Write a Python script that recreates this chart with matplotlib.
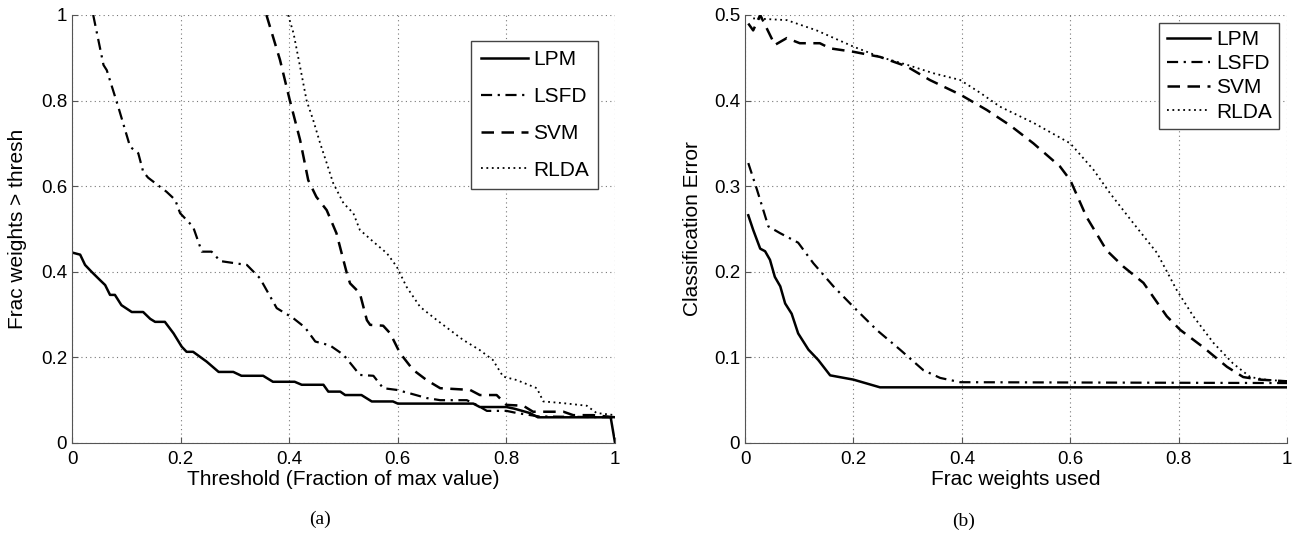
import matplotlib.pyplot as plt

plt.rcParams["font.family"] = ["Liberation Sans", "DejaVu Sans"]

# (a) fraction of weights above threshold
lpm_a_x = [0, 0.015, 0.024, 0.036, 0.052, 0.061, 0.07, 0.079, 0.091, 0.11, 0.131, 0.144, 0.153, 0.171,
           0.187, 0.202, 0.211, 0.223, 0.248, 0.27, 0.297, 0.312, 0.352, 0.37, 0.41, 0.423, 0.463, 0.472,
           0.494, 0.503, 0.533, 0.552, 0.591, 0.6, 0.739, 0.751, 0.8, 0.815, 0.843, 0.858, 0.992, 1.0]
lpm_a_y = [0.445, 0.44, 0.416, 0.40, 0.38, 0.369, 0.346, 0.346, 0.322, 0.306, 0.306, 0.29, 0.283, 0.283,
           0.256, 0.225, 0.213, 0.213, 0.19, 0.166, 0.166, 0.157, 0.157, 0.143, 0.143, 0.136, 0.136, 0.12,
           0.12, 0.112, 0.112, 0.097, 0.097, 0.092, 0.092, 0.084, 0.084, 0.08, 0.07, 0.06, 0.06, 0.0]
lsfd_a_x = [0.039, 0.058, 0.064, 0.085, 0.107, 0.122, 0.131, 0.14, 0.174, 0.19, 0.199, 0.223, 0.239, 0.257,
            0.273, 0.3, 0.322, 0.346, 0.377, 0.407, 0.429, 0.448, 0.475, 0.5, 0.518, 0.53, 0.555, 0.573,
            0.598, 0.622, 0.653, 0.678, 0.727, 0.745, 0.764, 0.8, 0.819, 0.86, 1.0]
lsfd_a_y = [1.0, 0.883, 0.871, 0.786, 0.692, 0.677, 0.634, 0.62, 0.587, 0.568, 0.537, 0.505, 0.447, 0.447,
            0.425, 0.42, 0.416, 0.385, 0.315, 0.292, 0.27, 0.237, 0.228, 0.206, 0.178, 0.159, 0.157, 0.128,
            0.124, 0.116, 0.105, 0.1, 0.1, 0.089, 0.075, 0.075, 0.07, 0.062, 0.06]
svm_a_x = [0.358, 0.383, 0.401, 0.42, 0.435, 0.45, 0.469, 0.487, 0.506, 0.512, 0.53, 0.543, 0.549, 0.573,
           0.586, 0.604, 0.628, 0.653, 0.678, 0.733, 0.751, 0.782, 0.8, 0.831, 0.849, 0.905, 0.923, 0.96, 1.0]
svm_a_y = [1.0, 0.895, 0.801, 0.708, 0.614, 0.575, 0.544, 0.49, 0.397, 0.373, 0.35, 0.287, 0.276, 0.274,
           0.256, 0.21, 0.171, 0.147, 0.128, 0.124, 0.112, 0.112, 0.089, 0.087, 0.073, 0.073, 0.065, 0.065, 0.06]
rlda_a_x = [0.398, 0.408, 0.42, 0.432, 0.444, 0.457, 0.469, 0.481, 0.5, 0.518, 0.53, 0.555, 0.58, 0.598,
            0.616, 0.641, 0.672, 0.696, 0.72, 0.751, 0.775, 0.794, 0.819, 0.856, 0.868, 0.905, 0.948, 0.966, 1.0]
rlda_a_y = [1.0, 0.957, 0.879, 0.8, 0.755, 0.7, 0.654, 0.607, 0.56, 0.537, 0.498, 0.47, 0.443, 0.412,
            0.365, 0.318, 0.287, 0.264, 0.241, 0.217, 0.194, 0.155, 0.147, 0.128, 0.097, 0.093, 0.087, 0.07, 0.065]

# (b) classification error vs fraction of weights used
lpm_b_x = [0.006, 0.015, 0.028, 0.037, 0.046, 0.055, 0.065, 0.074, 0.086, 0.098, 0.117, 0.135, 0.157,
           0.2, 0.249, 1.0]
lpm_b_y = [0.266, 0.249, 0.227, 0.224, 0.214, 0.194, 0.183, 0.163, 0.151, 0.128, 0.109, 0.097, 0.079,
           0.074, 0.065, 0.065]
lsfd_b_x = [0.006, 0.022, 0.043, 0.065, 0.098, 0.126, 0.163, 0.2, 0.243, 0.286, 0.329, 0.36, 0.397, 1.0]
lsfd_b_y = [0.327, 0.296, 0.253, 0.245, 0.234, 0.21, 0.183, 0.159, 0.132, 0.109, 0.085, 0.076, 0.071, 0.07]
svm_b_x = [0.006, 0.015, 0.028, 0.055, 0.077, 0.101, 0.138, 0.157, 0.2, 0.249, 0.298, 0.341, 0.397, 0.446,
           0.489, 0.532, 0.581, 0.6, 0.63, 0.667, 0.698, 0.735, 0.778, 0.803, 0.845, 0.889, 0.919, 0.95, 1.0]
svm_b_y = [0.49, 0.482, 0.5, 0.465, 0.473, 0.467, 0.467, 0.461, 0.457, 0.451, 0.44, 0.424, 0.407, 0.389,
           0.371, 0.35, 0.323, 0.307, 0.264, 0.225, 0.206, 0.187, 0.148, 0.132, 0.112, 0.089, 0.077, 0.074, 0.072]
rlda_b_x = [0.015, 0.077, 0.132, 0.157, 0.2, 0.249, 0.298, 0.347, 0.397, 0.434, 0.47, 0.532, 0.6, 0.643,
            0.673, 0.716, 0.76, 0.796, 0.827, 0.864, 0.9, 0.932, 0.96, 1.0]
rlda_b_y = [0.496, 0.494, 0.482, 0.475, 0.463, 0.451, 0.442, 0.432, 0.424, 0.409, 0.393, 0.374, 0.35, 0.319,
            0.292, 0.257, 0.222, 0.179, 0.148, 0.117, 0.093, 0.077, 0.074, 0.072]

labels = ["LPM", "LSFD", "SVM", "RLDA"]
styles = [dict(ls="-", lw=1.8),
          dict(ls=(0, (5, 2.5, 1, 2.5)), lw=1.6),
          dict(ls=(0, (5, 3)), lw=1.8),
          dict(ls=(0, (1, 2)), lw=1.3)]

fig = plt.figure(figsize=(13, 5.33), dpi=100)
ax1 = fig.add_axes([0.0554, 0.1689, 0.4177, 0.8030])
ax2 = fig.add_axes([0.5731, 0.1689, 0.4170, 0.8030])

series_a = [(lpm_a_x, lpm_a_y), (lsfd_a_x, lsfd_a_y), (svm_a_x, svm_a_y), (rlda_a_x, rlda_a_y)]
series_b = [(lpm_b_x, lpm_b_y), (lsfd_b_x, lsfd_b_y), (svm_b_x, svm_b_y), (rlda_b_x, rlda_b_y)]

for ax, series in ((ax1, series_a), (ax2, series_b)):
    for (x, y), lab, st in zip(series, labels, styles):
        ax.plot(x, y, color="black", label=lab, **st)
    ax.set_xlim(0, 1)
    ax.grid(True, color="#777777", ls=(0, (1, 3)), lw=0.8)
    ax.spines["top"].set_visible(False)
    ax.spines["right"].set_visible(False)
    ax.spines["left"].set_color("#555555")
    ax.spines["bottom"].set_color("#555555")
    ax.tick_params(direction="in", labelsize=13.5, length=4, color="#555555")
    ax.tick_params(axis="x", pad=6)
    ax.set_xticks([0, 0.2, 0.4, 0.6, 0.8, 1])
    ax.set_xticklabels(["0", "0.2", "0.4", "0.6", "0.8", "1"])

ax1.set_ylim(0, 1)
ax1.set_yticks([0, 0.2, 0.4, 0.6, 0.8, 1])
ax1.set_yticklabels(["0", "0.2", "0.4", "0.6", "0.8", "1"])
ax1.set_xlabel("Threshold (Fraction of max value)", fontsize=15)
ax1.set_ylabel("Frac weights > thresh", fontsize=15)
ax1.xaxis.set_label_coords(0.5, -0.064)
ax1.yaxis.set_label_coords(-0.083, 0.5)
leg1 = ax1.legend(loc="upper right", bbox_to_anchor=(0.9687, 0.94), borderaxespad=0, fontsize=15,
                  handlelength=2.25, labelspacing=0.86, borderpad=0.45, handletextpad=0.25,
                  fancybox=False, framealpha=1)
leg1.get_frame().set_edgecolor("#444444")

ax2.set_ylim(0, 0.5)
ax2.set_yticks([0, 0.1, 0.2, 0.3, 0.4, 0.5])
ax2.set_yticklabels(["0", "0.1", "0.2", "0.3", "0.4", "0.5"])
ax2.set_xlabel("Frac weights used", fontsize=15)
ax2.set_ylabel("Classification Error", fontsize=15)
ax2.xaxis.set_label_coords(0.5, -0.064)
ax2.yaxis.set_label_coords(-0.079, 0.5)
leg2 = ax2.legend(loc="upper right", bbox_to_anchor=(0.9852, 0.982), borderaxespad=0, fontsize=15,
                  handlelength=2.07, labelspacing=0.25, borderpad=0.35, handletextpad=0.3,
                  fancybox=False, framealpha=1)
leg2.get_frame().set_edgecolor("#444444")

fig.text(0.246, 0.026, "(a)", ha="center", va="center", fontsize=14, family="Liberation Serif")
fig.text(0.741, 0.021, "(b)", ha="center", va="center", fontsize=14, family="Liberation Serif")

fig.savefig("out.png", dpi=100)
